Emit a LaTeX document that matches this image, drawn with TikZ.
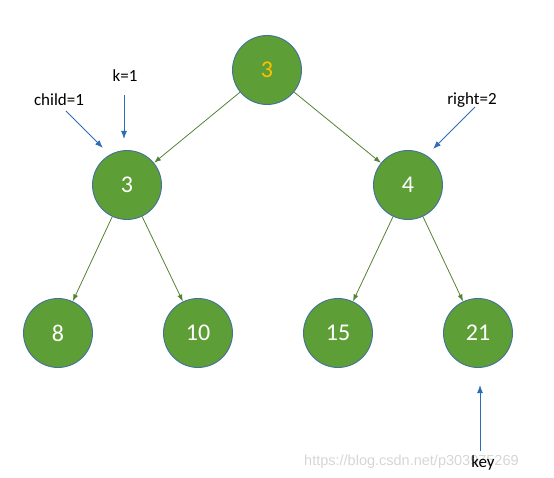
\documentclass[tikz,border=0pt]{standalone}
\usepackage{fontspec}
\setmainfont{Carlito}
\newfontfamily\wmfont{Liberation Sans}
\usetikzlibrary{arrows.meta}
\definecolor{nodefill}{HTML}{5E9E36}
\definecolor{nodeline}{HTML}{41719C}
\definecolor{edgegreen}{HTML}{548235}
\definecolor{ptrblue}{HTML}{2E6DB4}
\definecolor{rootnum}{HTML}{FFC000}
\begin{document}
\begin{tikzpicture}[x=1pt,y=-1pt,
  tnode/.style={circle,draw=nodeline,line width=0.9pt,fill=nodefill,minimum size=69pt,inner sep=0pt,text=white,font=\fontsize{24}{28}\selectfont},
  edge/.style={draw=edgegreen,line width=0.8pt,-{Latex[length=7pt,width=5pt]}},
  ptr/.style={draw=ptrblue,line width=1pt,-{Latex[length=8pt,width=6pt]}},
  lbl/.style={font=\fontsize{17}{20}\selectfont,text=black,inner sep=1pt}]
\useasboundingbox (0,0) rectangle (554,478);
\node[font=\wmfont\fontsize{14.5}{16}\selectfont,text=black!16,anchor=west,inner sep=0pt] (wm) at (304,462) {https://blog.csdn.net/p303975269};
\node[tnode,text=rootnum] (r) at (267,70) {3};
\node[tnode] (a) at (127,185) {3};
\node[tnode] (b) at (408,185) {4};
\node[tnode] (c) at (58,333) {8};
\node[tnode] (d) at (198,333) {10};
\node[tnode] (e) at (338,333) {15};
\node[tnode] (f) at (478,333) {21};
\draw[edge] (r) -- (a);
\draw[edge] (r) -- (b);
\draw[edge] (a) -- (c);
\draw[edge] (a) -- (d);
\draw[edge] (b) -- (e);
\draw[edge] (b) -- (f);
\node[lbl] (lchild) at (59,100) {child=1};
\node[lbl] (lk) at (125,76) {k=1};
\node[lbl] (lright) at (472,100) {right=2};
\node[lbl] (lkey) at (483,463) {key};
\coordinate (pchild) at (103,148);
\coordinate (pk) at (124,139);
\coordinate (pright) at (433,149);
\coordinate (pkey) at (480,385);
\draw[ptr] (66,111) -- (pchild);
\draw[ptr] (124,95) -- (pk);
\draw[ptr] (475,107) -- (pright);
\draw[ptr] (480,451) -- (pkey);
\end{tikzpicture}
\end{document}
